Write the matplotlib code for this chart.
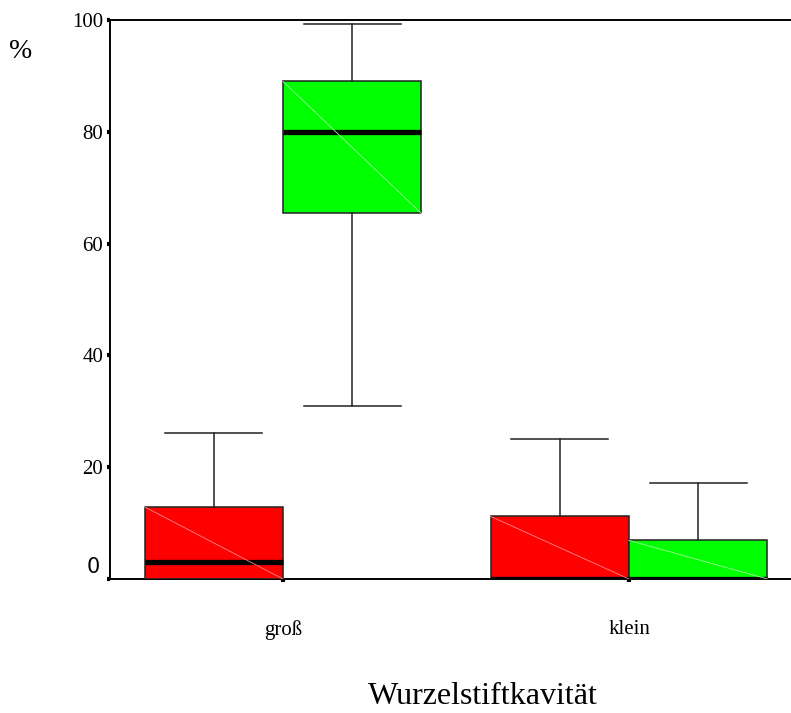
import numpy as np
import matplotlib
matplotlib.use("Agg")
from matplotlib import pyplot as plt

# values
categories = ["groß", "klein"]
groups = ["rot", "grün"]
box_colors = ["#ff0000", "#00ff00"]
diag_colors = ["#ff8a8a", "#9cff9c"]

# per category: [rot, grün]
whislo = [[0.0, 31.0], [0.0, 0.0]]
q1 = [[0.0, 65.4], [0.0, 0.0]]
med = [[3.0, 80.0], [0.0, 0.0]]
q3 = [[12.9, 89.0], [11.2, 6.9]]
whishi = [[26.2, 99.2], [25.1, 17.1]]

yticks = [0, 20, 40, 60, 80, 100]
ytick_labels = ["", "20", "40", "60", "80", "100"]

plt.rcParams["font.family"] = ["Liberation Serif", "DejaVu Serif"]

fig = plt.figure(figsize=(7.91, 7.13), dpi=100)
ax = fig.add_axes([110 / 791, 134 / 713, 692 / 791, 559 / 713])

box_w = 0.4
offsets = [-0.2, 0.2]
for ci, cat in enumerate(categories):
    for gi, grp in enumerate(groups):
        pos = ci + offsets[gi]
        stats = [{"whislo": whislo[ci][gi], "q1": q1[ci][gi], "med": med[ci][gi],
                  "q3": q3[ci][gi], "whishi": whishi[ci][gi], "fliers": [], "label": grp}]
        ax.bxp(stats, positions=[pos], widths=box_w, capwidths=0.28,
               patch_artist=True, showfliers=False,
               boxprops=dict(facecolor=box_colors[gi], edgecolor="#222222", linewidth=1.1),
               medianprops=dict(color="black", linewidth=3.8, solid_capstyle="butt"),
               whiskerprops=dict(color="#222222", linewidth=1.1),
               capprops=dict(color="#222222", linewidth=1.1),
               manage_ticks=False, zorder=3)
        # faint diagonal seen inside the boxes
        if q3[ci][gi] > q1[ci][gi]:
            ax.plot([pos - box_w / 2, pos + box_w / 2], [q3[ci][gi], q1[ci][gi]],
                    color=diag_colors[gi], linewidth=0.6, zorder=3.5)

ax.set_xlim(-0.5, 1.5)
ax.set_ylim(0, 100)
ax.set_yticks(yticks)
ax.set_yticklabels(ytick_labels, fontsize=15)
ax.set_xticks(range(len(categories)))
ax.set_xticklabels(categories, fontsize=15)

ax.spines["right"].set_visible(False)
for s in ["left", "top", "bottom"]:
    ax.spines[s].set_linewidth(1.4)
    ax.spines[s].set_color("black")
ax.tick_params(axis="y", direction="out", length=2.5, width=3, pad=2.5)
ax.tick_params(axis="x", direction="out", length=2.5, width=3, pad=27)

# the zero label is set in a different face in the reference
ax.text(-0.014, 0.004, "0", transform=ax.transAxes, ha="right", va="bottom",
        fontsize=15, family="DejaVu Sans")

fig.text(21 / 791, 1 - 51 / 713, "%", ha="center", va="center", fontsize=20)
fig.text(483 / 791, 2 / 713, "Wurzelstiftkavität", ha="center", va="bottom", fontsize=23)

plt.savefig("out.png", dpi=100)
